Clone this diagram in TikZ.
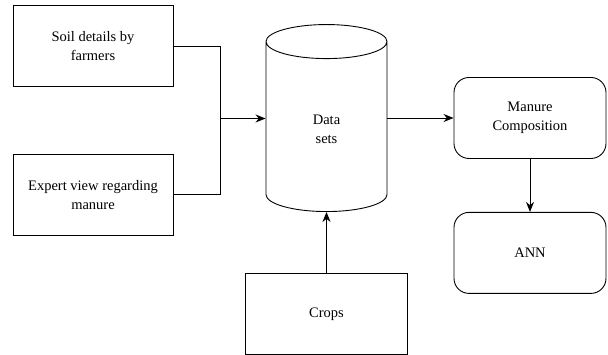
\documentclass[tikz,border=0pt]{standalone}
\usepackage{fontspec}
\setmainfont{Liberation Serif}
\usetikzlibrary{positioning, shapes.geometric, arrows.meta}

\begin{document}
\begin{tikzpicture}[x=1pt, y=-1pt, node distance=60pt,
		font=\fontsize{14.5}{19}\selectfont, line width=0.9pt,
		b/.style={rectangle, draw, align=center, minimum width=160pt, minimum height=81pt},
		r/.style={b, rounded corners=15pt, minimum width=152pt},
		db/.style={cylinder, draw, shape border rotate=90, aspect=1, align=center, minimum width=121pt, minimum height=187pt},
		>={Stealth[length=10pt, width=8pt]}]
		\useasboundingbox (0,0) rectangle (608,355);

		\node[b] (soil) at (93,46) {Soil details by\\farmers};
		\node[b, below=67pt of soil] (expert) {Expert view regarding\\manure};
		\node[db, anchor=south] (data) at (326.5,212) {Data\\sets};
		\node[b, minimum width=162pt, below=61pt of data] (crops) {Crops};
		\node[r] (manure) at (530,118) {Manure\\Composition};
		\node[r, below=53pt of manure] (ann) {ANN};
		\coordinate (join) at (220,118.5);

		\draw (soil.east) -| (join);
		\draw (expert.east) -| (join);
		\path[->] (join) edge (join -| data.west);
		\path[->] (data.east |- manure.west) edge (manure.west);
		\path[->] (manure) edge (ann);
		\path[->] (crops) edge (data);
	\end{tikzpicture}
\end{document}
